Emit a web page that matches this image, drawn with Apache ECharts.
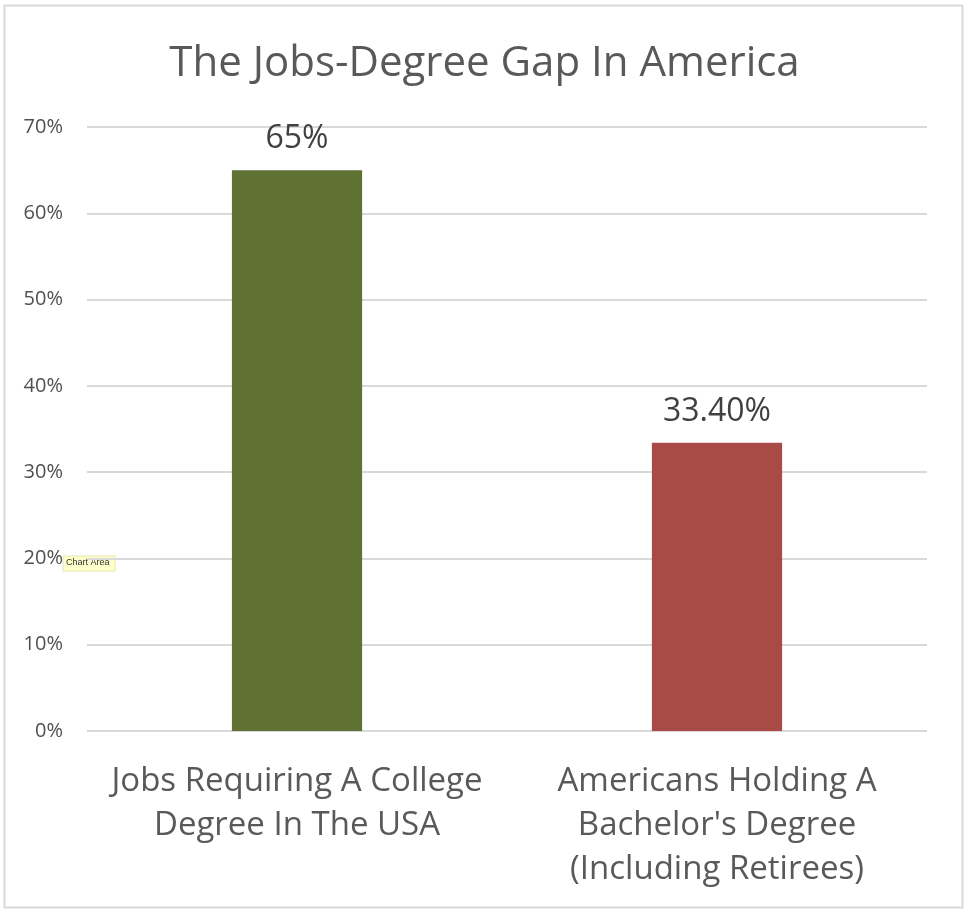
<!DOCTYPE html>
<html><head><meta charset="utf-8">
<script src="https://cdn.jsdelivr.net/npm/echarts@6/dist/echarts.min.js"></script>
<style>html,body{margin:0;padding:0;background:#fff}#c{width:969px;height:914px}</style>
</head><body><div id="c"></div>
<script>
const titleText = "The Jobs-Degree Gap In America";
const categories = ["Jobs Requiring A College\nDegree In The USA", "Americans Holding A\nBachelor's Degree\n(Including Retirees)"];
const values = [65, 33.4];
const valueLabels = ["65%", "33.40%"];
const barColors = ["#607233", "#a84b46"];
const yTicks = [0, 10, 20, 30, 40, 50, 60, 70];

const font = "'Open Sans', sans-serif";
const chart = echarts.init(document.getElementById('c'), null, {renderer: 'canvas'});
chart.setOption({
  animation: false,
  backgroundColor: '#fff',
  title: {
    text: titleText, left: 'center', top: 38,
    textStyle: {fontFamily: font, fontSize: 42, fontWeight: 'normal', color: '#595959'}
  },
  grid: {left: 87, right: 42, top: 127, bottom: 183, containLabel: false},
  xAxis: {
    type: 'category', data: categories,
    axisLine: {show: false}, axisTick: {show: false},
    axisLabel: {interval: 0, fontFamily: font, fontSize: 33, color: '#595959', lineHeight: 44, margin: 29}
  },
  yAxis: {
    type: 'value', min: 0, max: 70, interval: 10,
    axisLine: {show: false}, axisTick: {show: false},
    splitLine: {lineStyle: {color: '#d9d9d9', width: 2}},
    axisLabel: {fontFamily: font, fontSize: 20, color: '#505050', margin: 24,
      formatter: v => yTicks.includes(v) ? v + '%' : ''}
  },
  series: [{
    type: 'bar', barWidth: '31%',
    data: values.map((v, i) => ({value: v, itemStyle: {color: barColors[i]}})),
    label: {show: true, position: 'top', distance: 15, fontFamily: font, fontSize: 32, color: '#404040',
      formatter: p => valueLabels[p.dataIndex]}
  }],
  graphic: [
    {type: 'rect', shape: {x: 4.5, y: 5.5, width: 958, height: 902}, style: {fill: 'none', stroke: '#d9d9d9', lineWidth: 2}, silent: true},
    {type: 'rect', shape: {x: 63, y: 556, width: 52, height: 15}, style: {fill: '#ffffcc', stroke: '#e6e6b0', lineWidth: 1}},
    {type: 'text', left: 66, top: 558, style: {text: 'Chart Area', font: "9px 'Liberation Sans', sans-serif", fill: '#333'}}
  ]
});
</script></body></html>
